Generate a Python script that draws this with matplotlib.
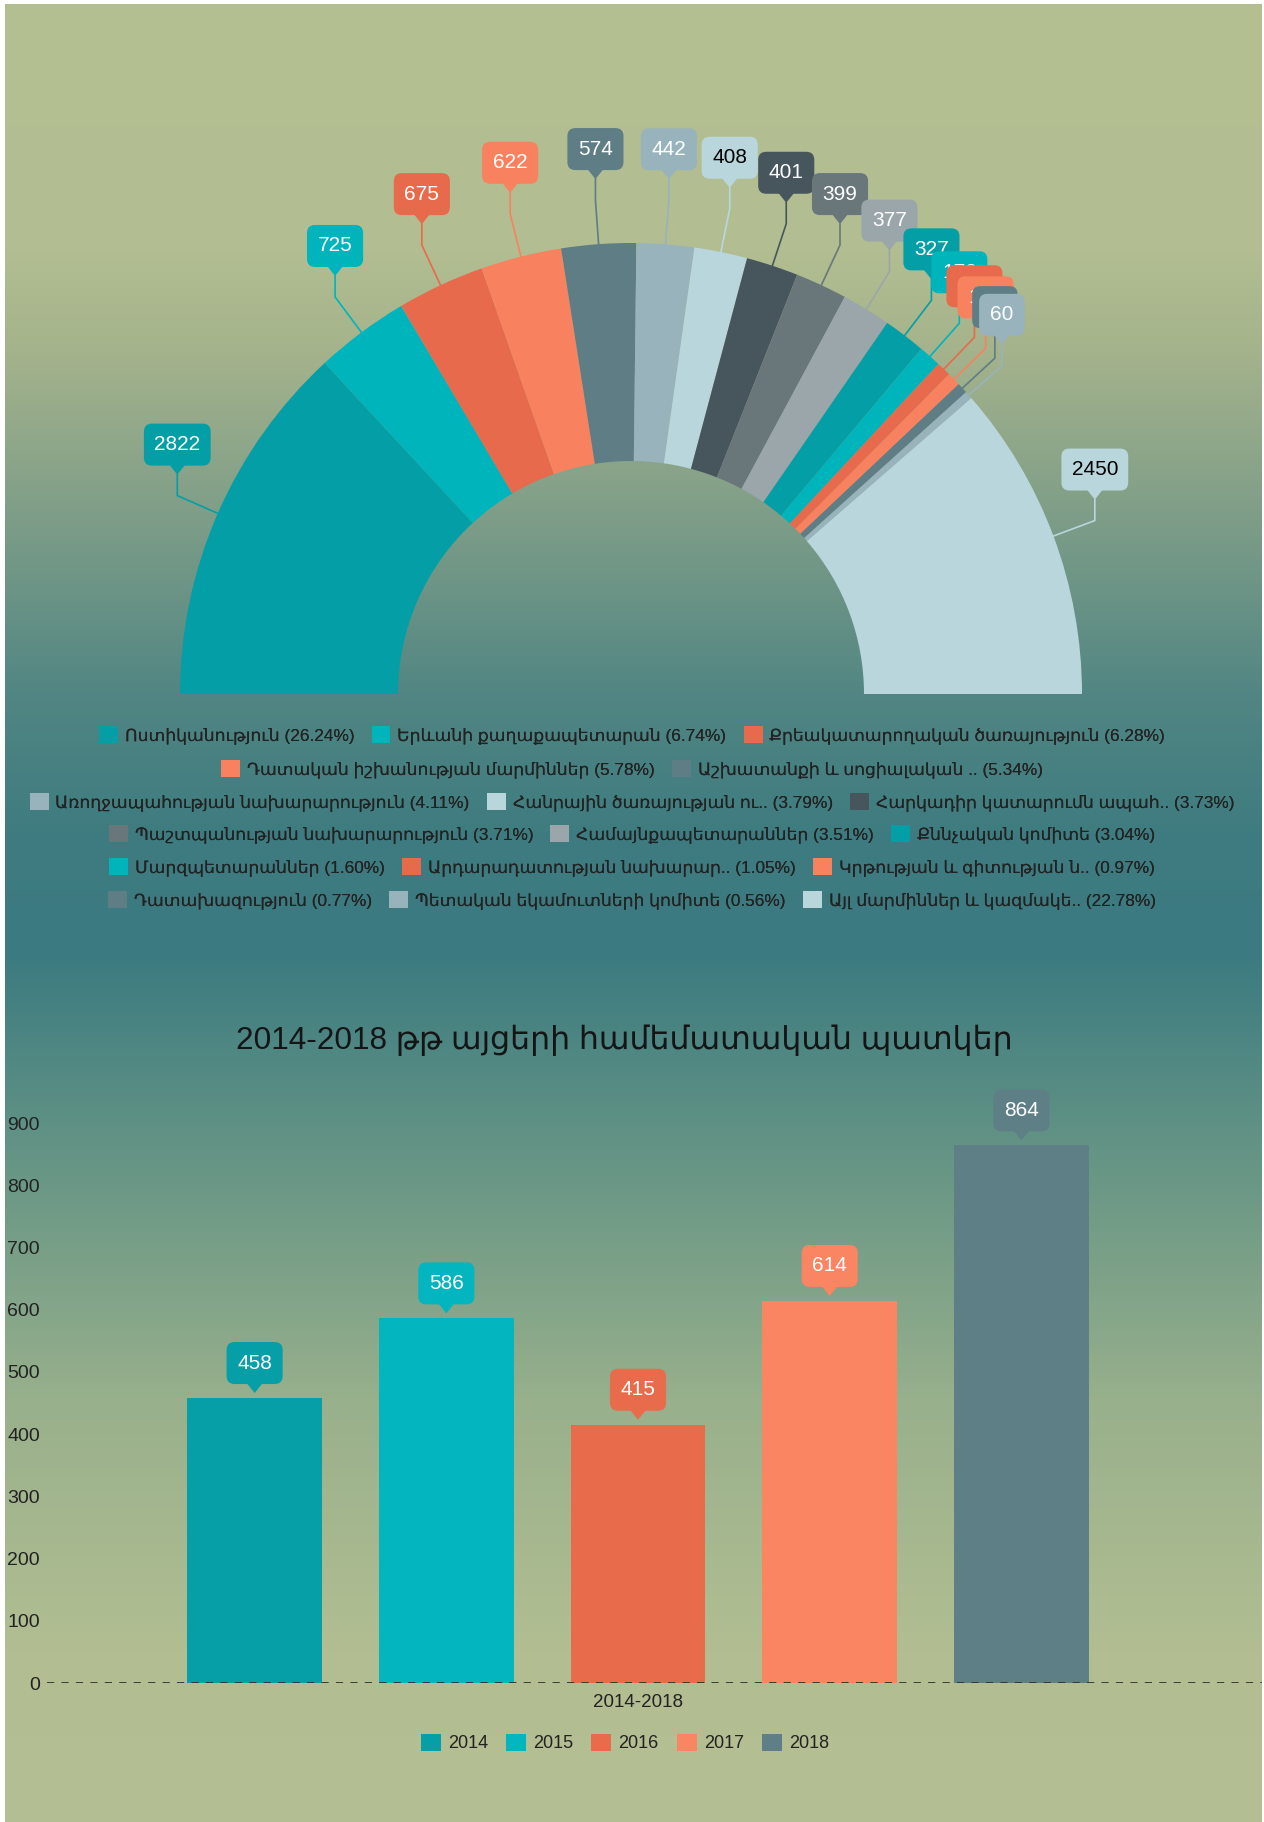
import numpy as np
import matplotlib
matplotlib.use('Agg')
import matplotlib.pyplot as plt
from matplotlib.patches import FancyBboxPatch, Polygon, Patch
from matplotlib.colors import to_rgb

plt.rcParams['font.family'] = ['Liberation Sans', 'DejaVu Sans']

# ---- data ----
pie_names = ['Ոստիկանություն', 'Երևանի քաղաքապետարան', 'Քրեակատարողական ծառայություն',
             'Դատական իշխանության մարմիններ', 'Աշխատանքի և սոցիալական ..',
             'Առողջապահության նախարարություն', 'Հանրային ծառայության ու..',
             'Հարկադիր կատարումն ապահ..', 'Պաշտպանության նախարարություն',
             'Համայնքապետարաններ', 'Քննչական կոմիտե', 'Մարզպետարաններ',
             'Արդարադատության նախարար..', 'Կրթության և գիտության ն..',
             'Դատախազություն', 'Պետական եկամուտների կոմիտե', 'Այլ մարմիններ և կազմակե..']
pie_values = [2822, 725, 675, 622, 574, 442, 408, 401, 399, 377, 327, 172, 113, 104, 83, 60, 2450]

bar_years = ['2014', '2015', '2016', '2017', '2018']
bar_values = [458, 586, 415, 614, 864]
bar_category = '2014-2018'
bar_title = '2014-2018 թթ այցերի համեմատական պատկեր'

palette = ['#049fa6', '#00b4bc', '#e86a4c', '#f8825f', '#5e7d84',
           '#98b3bb', '#bad6dd', '#47565c', '#69777b', '#9ba6aa']
bar_colors = ['#069fa7', '#03b5be', '#e86b4c', '#f98562', '#5f7f87']

legend_rows = [[0, 1, 2], [3, 4], [5, 6, 7], [8, 9, 10], [11, 12, 13], [14, 15, 16]]

W, H = 1264, 1822
fig = plt.figure(figsize=(W / 100, H / 100), dpi=100, facecolor='white')

# background gradient + pie live in a pixel-coordinate axes
ax = fig.add_axes([0, 0, 1, 1])
stops_y = [0, 250, 350, 520, 700, 830, 950, 1150, 1400, 1650, 1822]
stops_c = [(180, 191, 146), (178, 190, 145), (165, 179, 140), (125, 157, 136), (80, 133, 131),
           (63, 124, 128), (58, 122, 128), (100, 148, 133), (152, 176, 140), (178, 190, 146),
           (180, 191, 146)]
yy = np.arange(4, H)
grad = np.stack([np.interp(yy, stops_y, [c[k] for c in stops_c]) for k in range(3)], axis=-1) / 255.0
ax.imshow(grad[:, None, :], extent=[5, W - 2, 0, H - 4], aspect='auto', zorder=0)


def lum(c):
    r, g, b = to_rgb(c)
    return 0.299 * r + 0.587 * g + 0.114 * b


def bubble(x, tip_y, text, color, z):
    tc = 'black' if lum(color) > 0.75 else 'white'
    w = 24 + 10.7 * len(text)
    h = 42
    ph = 9
    ax.add_patch(FancyBboxPatch((x - w / 2, tip_y + ph), w, h,
                                boxstyle='round,pad=0,rounding_size=8',
                                fc=color, ec='none', zorder=z))
    ax.add_patch(Polygon([(x - 8, tip_y + ph + 1), (x + 8, tip_y + ph + 1), (x, tip_y)],
                         closed=True, fc=color, ec='none', zorder=z))
    ax.text(x, tip_y + ph + h / 2, text, ha='center', va='center', color=tc,
            fontsize=15, zorder=z + 0.5)


# ---- half donut ----
cx, cy, R, r_in = 631, H - 694, 451, 233
total = sum(pie_values)
colors = [palette[i % len(palette)] for i in range(len(pie_values))]
wedges, _ = ax.pie(pie_values + [total], center=(cx, cy), radius=R, startangle=180,
                   counterclock=False, colors=colors + ['white'],
                   wedgeprops=dict(width=R - r_in, edgecolor='none'))
wedges[-1].set_visible(False)

for i, (wdg, v) in enumerate(zip(wedges[:-1], pie_values)):
    mid = np.radians((wdg.theta1 + wdg.theta2) / 2)
    x0, y0 = cx + R * np.cos(mid), cy + R * np.sin(mid)
    px, py = cx + 1.098 * R * np.cos(mid), cy + 1.098 * R * np.sin(mid)
    tip = py + 21
    ax.plot([x0, px, px], [y0, py, tip], color=colors[i], lw=1.2, zorder=3)
    bubble(px, tip, str(v), colors[i], 10 + i)

ax.set_xlim(0, W)
ax.set_ylim(0, H)
ax.set_aspect('auto')
ax.axis('off')

# legend rows for the donut
row_y = [735, 769, 802, 834, 867, 900]
pcts = [v / total * 100 for v in pie_values]
for row, ry in zip(legend_rows, row_y):
    handles = [Patch(facecolor=colors[i], edgecolor='none') for i in row]
    labels = ['{} ({:.2f}%)'.format(pie_names[i], pcts[i]) for i in row]
    leg = fig.legend(handles, labels, loc='center', bbox_to_anchor=(632 / W, 1 - ry / H),
                     ncol=len(row), frameon=False, fontsize=12.4, handlelength=1.1,
                     handleheight=1.1, handletextpad=0.4, columnspacing=1.0,
                     labelcolor='#222222', borderpad=0)
    fig.add_artist(leg)

# ---- bar chart ----
fig.text(624 / W, 1 - 1040 / H, bar_title, ha='center', va='center', fontsize=22.7,
         color='#151515')

ax2 = fig.add_axes([47 / W, 1 - 1683 / H, (W - 2 - 47) / W, 560 / H], facecolor='none')
xpos = np.arange(len(bar_values)) - (len(bar_values) - 1) / 2
ax2.bar(xpos, bar_values, width=0.703, color=bar_colors, zorder=2)
ax2.set_xlim(-3.083, 3.255)
ax2.set_ylim(0, 900)
ax2.set_yticks(range(0, 901, 100))
ax2.set_xticks([0])
ax2.set_xticklabels([bar_category])
ax2.tick_params(axis='y', length=0, pad=5, labelsize=14, labelcolor='#222222')
ax2.tick_params(axis='x', length=0, pad=8, labelsize=13.5, labelcolor='#222222')
for s in ax2.spines.values():
    s.set_visible(False)
ax2.axhline(0, color='#333333', lw=1.3, ls=(0, (4, 4)), zorder=3)

to_px = ax.transData.inverted()
for x, v, c in zip(xpos, bar_values, bar_colors):
    bx, by = to_px.transform(ax2.transData.transform((x, v)))
    bubble(bx, by + 5, str(v), c, 40)

bar_handles = [Patch(facecolor=c, edgecolor='none') for c in bar_colors]
fig.legend(bar_handles, bar_years, loc='center', bbox_to_anchor=(625 / W, 1 - 1743 / H),
           ncol=5, frameon=False, fontsize=13, handlelength=1.1, handleheight=1.1,
           handletextpad=0.4, columnspacing=1.0, labelcolor='#222222', borderpad=0)

fig.savefig('out.png', dpi=100, facecolor='white')
